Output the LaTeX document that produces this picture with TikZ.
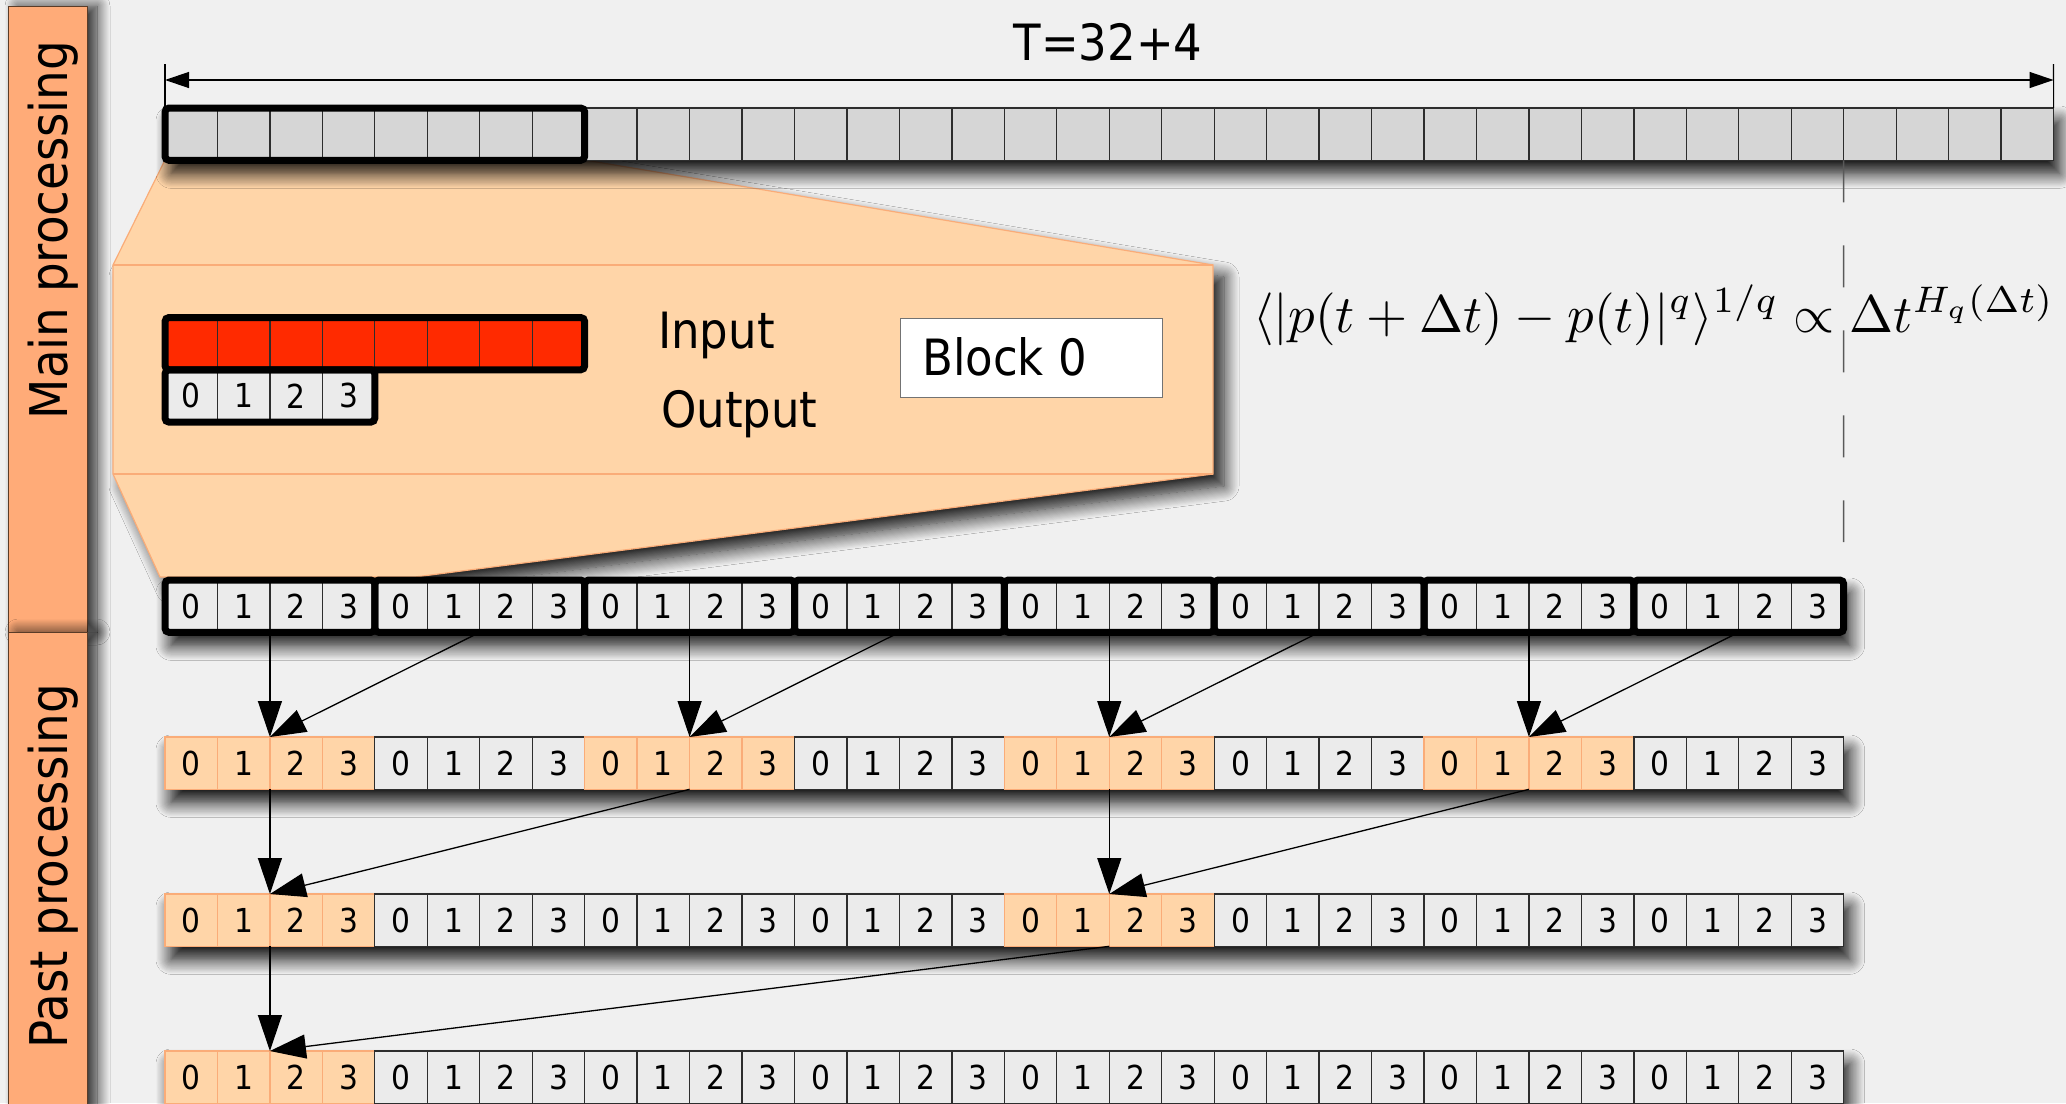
\documentclass[tikz,border=0pt]{standalone}
\usepackage[no-math]{fontspec}
\setmainfont{DejaVu Sans Condensed}
\usepackage{graphicx}
\usetikzlibrary{arrows.meta,shadows.blur}

\definecolor{paper}{RGB}{240,240,240}
\definecolor{band}{RGB}{255,171,120}
\definecolor{bandline}{RGB}{90,60,40}
\definecolor{peach}{RGB}{255,213,168}
\definecolor{peachedge}{RGB}{250,172,120}
\definecolor{cellgray}{RGB}{235,235,235}
\definecolor{topgray}{RGB}{214,214,214}
\definecolor{cellline}{RGB}{45,45,45}
\definecolor{redcell}{RGB}{255,42,0}

\newcommand\celltxt{\fontsize{33}{37}\selectfont}
\newcommand\bigtxt{\fontsize{50}{56}\selectfont}
\newcommand\bandtxt{\fontsize{52}{58}\selectfont}

\begin{document}
\begin{tikzpicture}[x=1pt,y=-1pt,
  cell/.style={draw=cellline,line width=1.3pt,fill=cellgray,
    minimum width=52.46pt,minimum height=52.3pt,inner sep=0pt,outer sep=0pt,
    anchor=north west,font=\celltxt},
  topcell/.style={cell,fill=topgray},
  redcellbox/.style={cell,fill=redcell},
  thickbox/.style={draw=black,line width=7pt,rounded corners=4pt},
  rowshadow/.style={blur shadow={shadow xshift=6pt,shadow yshift=-13pt,
    shadow blur radius=15pt,shadow blur steps=14,shadow opacity=95}},
  conn/.style={draw=black,line width=1.3pt,-{Triangle[length=36pt,width=24pt]}},
  dimline/.style={draw=black,line width=1.3pt,
    {Triangle[length=24pt,width=16pt]}-{Triangle[length=24pt,width=16pt]}},
  tickline/.style={draw=black,line width=1.1pt},
  bandbox/.style={fill=band,draw=bandline,line width=1pt,inner sep=0pt,
    outer sep=0pt,anchor=north west,minimum width=79pt,
    blur shadow={shadow xshift=10pt,shadow yshift=0pt,shadow blur radius=13pt,
    shadow blur steps=14,shadow opacity=85}},
  bandlabel/.style={rotate=90,anchor=base,font=\bandtxt,inner sep=0pt},
  biglabel/.style={font=\bigtxt,inner sep=0pt},
  calloutfill/.style={fill=peach,draw=peachedge,line width=1.2pt},
  guideline/.style={draw=black!65,line width=1.5pt,dash pattern=on 42pt off 43pt},
]
% paper
\fill[paper] (0,0) rectangle (2066,1103);
\useasboundingbox (0,0) rectangle (2066,1103);

% side bands
\node[bandbox,minimum height=626pt] (mainband) at (8,6) {};
\node[bandbox,minimum height=490pt] (pastband) at (8,632) {};
\node[bandlabel] (mainlbl) at (67,230) {Main processing};
\node[bandlabel] (pastlbl) at (67,866) {Past processing};

% zoom callout from the first block to the output row
\coordinate (cA) at (165,160);
\coordinate (cB) at (584.7,160);
\coordinate (cC) at (1213,265);
\coordinate (cD) at (1213,474);
\coordinate (cE) at (415,577);
\coordinate (cF) at (160,577);
\coordinate (cG) at (113,474);
\coordinate (cH) at (113,265);
\path[calloutfill,blur shadow={shadow xshift=11pt,shadow yshift=-12pt,
  shadow blur radius=15pt,shadow blur steps=14,shadow opacity=90}]
  (cA) -- (cB) -- (cC) -- (cD) -- (cE) -- (cF) -- (cG) -- (cH) -- cycle;
\draw[peachedge,line width=1.2pt] (cH) -- (cC) (cG) -- (cD);

% full series T = 32+4
\path[rowshadow,fill=topgray] (165,108) rectangle (2053.5,160.3);
\foreach \i in {1,...,36}
  \node[topcell] (top-\i) at ({165+(\i-1)*52.46},108) {};
\draw[thickbox] (top-1.north west) rectangle (top-8.south east);

% length marker
\coordinate (tickL) at (165,64);
\coordinate (tickR) at (2053.5,64);
\coordinate (dimL) at (165,80);
\coordinate (dimR) at (2053.5,80);
\draw[tickline] (top-1.north west) -- (tickL);
\draw[tickline] (top-36.north east) -- (tickR);
\draw[dimline] (dimL) -- (dimR);
\node[biglabel,anchor=base] (Tlbl) at (1108,60) {T=32+4};

% block 0: input and output
\foreach \i in {1,...,8}
  \node[redcellbox] (in-\i) at ({165+(\i-1)*52.46},317.5) {};
\foreach \i in {1,...,4}{
  \pgfmathtruncatemacro\d{\i-1}
  \node[cell] (out-\i) at ({165+(\i-1)*52.46},369.8) {\d};
}
\draw[thickbox] (in-1.north west) rectangle (in-8.south east);
\draw[thickbox] (out-1.north west) rectangle (out-4.south east);
\node[biglabel,anchor=base west] (inlbl) at (658,348) {Input};
\node[biglabel,anchor=base west] (outlbl) at (661,427) {Output};
\node[draw=black!55,line width=1.2pt,fill=white,anchor=north west,
  minimum width=262pt,minimum height=79pt,inner sep=0pt] (blk) at (900,318) {};
\node[biglabel,anchor=base west] (blklbl) at (922,375) {Block 0};

% scaling law
\node[anchor=base west,inner sep=0pt] (law) at (1253,332)
  {\resizebox{801pt}{!}{$\langle|p(t+\Delta t)-p(t)|^q\rangle^{1/q}\propto\Delta t^{H_q(\Delta t)}$}};
\coordinate (guideEnd) at (1843.7,542);
\draw[guideline] (top-32.south east) -- (guideEnd);

% main processing output
\path[rowshadow,fill=cellgray] (165,580) rectangle (1843.7,632.3);
\foreach \i in {1,...,32}{
  \pgfmathtruncatemacro\d{mod(\i-1,4)}
  \node[cell] (mid-\i) at ({165+(\i-1)*52.46},580) {\d};
}
\foreach \g in {0,...,7}{
  \pgfmathtruncatemacro\a{4*\g+1}
  \pgfmathtruncatemacro\b{4*\g+4}
  \draw[thickbox] (mid-\a.north west) rectangle (mid-\b.south east);
}

% past processing levels
\foreach \r/\y/\m in {pa/737/2,pb/894/4,pc/1051/8}{
  \path[rowshadow,fill=cellgray] (165,\y) rectangle (1843.7,\y+52.3);
  \foreach \i in {1,...,32}{
    \pgfmathtruncatemacro\d{mod(\i-1,4)}
    \pgfmathtruncatemacro\g{mod(int((\i-1)/4),\m)}
    \ifnum\g=0 \def\fc{peach}\def\dc{peachedge}\else\def\fc{cellgray}\def\dc{cellline}\fi
    \node[cell,fill=\fc,draw=\dc] (\r-\i) at ({165+(\i-1)*52.46},\y) {\d};
  }
}

% merging arrows
\foreach \k in {0,...,3}{
  \pgfmathtruncatemacro\a{8*\k+3}
  \pgfmathtruncatemacro\b{8*\k+7}
  \draw[conn] (mid-\a.south west) -- (pa-\a.north west);
  \draw[conn] (mid-\b.south west) -- (pa-\a.north west);
}
\draw[conn] (pa-3.south west) -- (pb-3.north west);
\draw[conn] (pa-11.south west) -- (pb-3.north west);
\draw[conn] (pa-19.south west) -- (pb-19.north west);
\draw[conn] (pa-27.south west) -- (pb-19.north west);
\draw[conn] (pb-3.south west) -- (pc-3.north west);
\draw[conn] (pb-19.south west) -- (pc-3.north west);
\end{tikzpicture}
\end{document}
